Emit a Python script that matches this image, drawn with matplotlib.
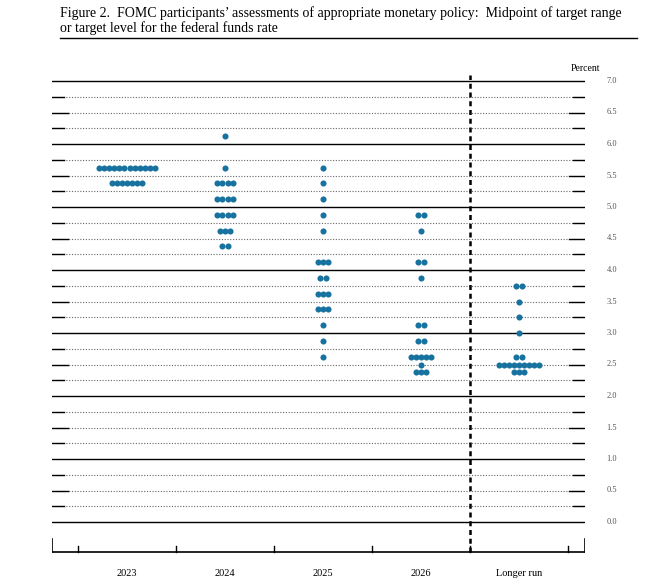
import matplotlib
matplotlib.use("Agg")
import matplotlib.pyplot as plt
import numpy as np

plt.rcParams["font.family"] = ["Liberation Serif", "DejaVu Serif"]

columns = ["2023", "2024", "2025", "2026", "Longer run"]
# (rate, number of participants) per column
dots = {
    "2023": [(5.625, 12), (5.375, 7)],
    "2024": [(6.125, 1), (5.625, 1), (5.375, 4), (5.125, 4), (4.875, 4), (4.625, 3), (4.375, 2)],
    "2025": [(5.625, 1), (5.375, 1), (5.125, 1), (4.875, 1), (4.625, 1), (4.125, 3), (3.875, 2),
             (3.625, 3), (3.375, 3), (3.125, 1), (2.875, 1), (2.625, 1)],
    "2026": [(4.875, 2), (4.625, 1), (4.125, 2), (3.875, 1), (3.125, 2), (2.875, 2),
             (2.625, 5), (2.5, 1), (2.375, 3)],
    "Longer run": [(3.75, 2), (3.5, 1), (3.25, 1), (3.0, 1), (2.625, 2), (2.5, 9), (2.375, 3)],
}
label_vals = np.arange(0, 7.01, 0.5)

W, H = 656, 584
fig = plt.figure(figsize=(W / 100, H / 100), dpi=100)
px_l, px_r, px_t, px_b = 52, 585, 65, 560
ax = fig.add_axes([px_l / W, 1 - px_b / H, (px_r - px_l) / W, (px_b - px_t) / H])
ppu_y = 63.0
ppu_x = 98.0
ax.set_ylim(-(px_b - 522) / ppu_y, 7 + (81 - px_t) / ppu_y)
ax.set_xlim(-(78 - px_l) / ppu_x, 5 + (px_r - 568) / ppu_x)
ax.axis("off")
x0, x1 = ax.get_xlim()

# horizontal grid
for v in np.arange(0, 7.01, 0.25):
    if abs(v - round(v)) < 1e-9:
        ax.plot([x0, x1], [v, v], color="black", lw=1.0)
    else:
        ax.plot([x0, x1], [v, v], color="#666666", lw=0.8, ls=(0, (1, 1.5)))
        tl = 0.16 if abs(v * 2 - round(v * 2)) < 1e-9 else 0.12
        ax.plot([x0, x0 + tl], [v, v], color="black", lw=1.0)
        ax.plot([x1 - tl, x1], [v, v], color="black", lw=1.0)

for v in label_vals:
    ax.text(x1 + 0.22, v, f"{v:.1f}", fontsize=6, color="#555555", va="center", ha="left", clip_on=False)
ax.text(x1 - 0.15, 7.13, "Percent", fontsize=7, ha="left", va="bottom", clip_on=False)

# vertical dashed separator
ax.plot([4, 4], [ax.get_ylim()[0] + 0.13, 7.1], color="black", lw=1.8, ls=(0, (2, 1.5)))

# bottom axis
yb = -(552 - 522) / ppu_y
ax.plot([x0, x1], [yb, yb], color="black", lw=1.2)
for b in range(6):
    ax.plot([b, b], [yb, yb + 0.1], color="black", lw=1.0)
for xe in (x0, x1):
    ax.plot([xe, xe], [yb, yb + 0.2], color="black", lw=1.2)

# dots
sp = 0.052
for i, col in enumerate(columns):
    for rate, n in dots[col]:
        xs = i + 0.5 + (np.arange(n) - (n - 1) / 2) * sp
        ax.plot(xs, [rate] * n, "o", color="#17729f", ms=4.4, mew=0, clip_on=False)
    ax.text(i + 0.5, yb - 0.34, col, fontsize=7.5, ha="center", va="center", clip_on=False)

fig.text(60 / W, 1 - 6 / H,
         "Figure 2.  FOMC participants\u2019 assessments of appropriate monetary policy:  Midpoint of target range\n"
         "or target level for the federal funds rate",
         fontsize=10, ha="left", va="top", linespacing=1.1)
fig.add_artist(plt.Line2D([60 / W, 637 / W], [1 - 38 / H, 1 - 38 / H], color="black", lw=1.0))

fig.savefig("out.png", dpi=100)
